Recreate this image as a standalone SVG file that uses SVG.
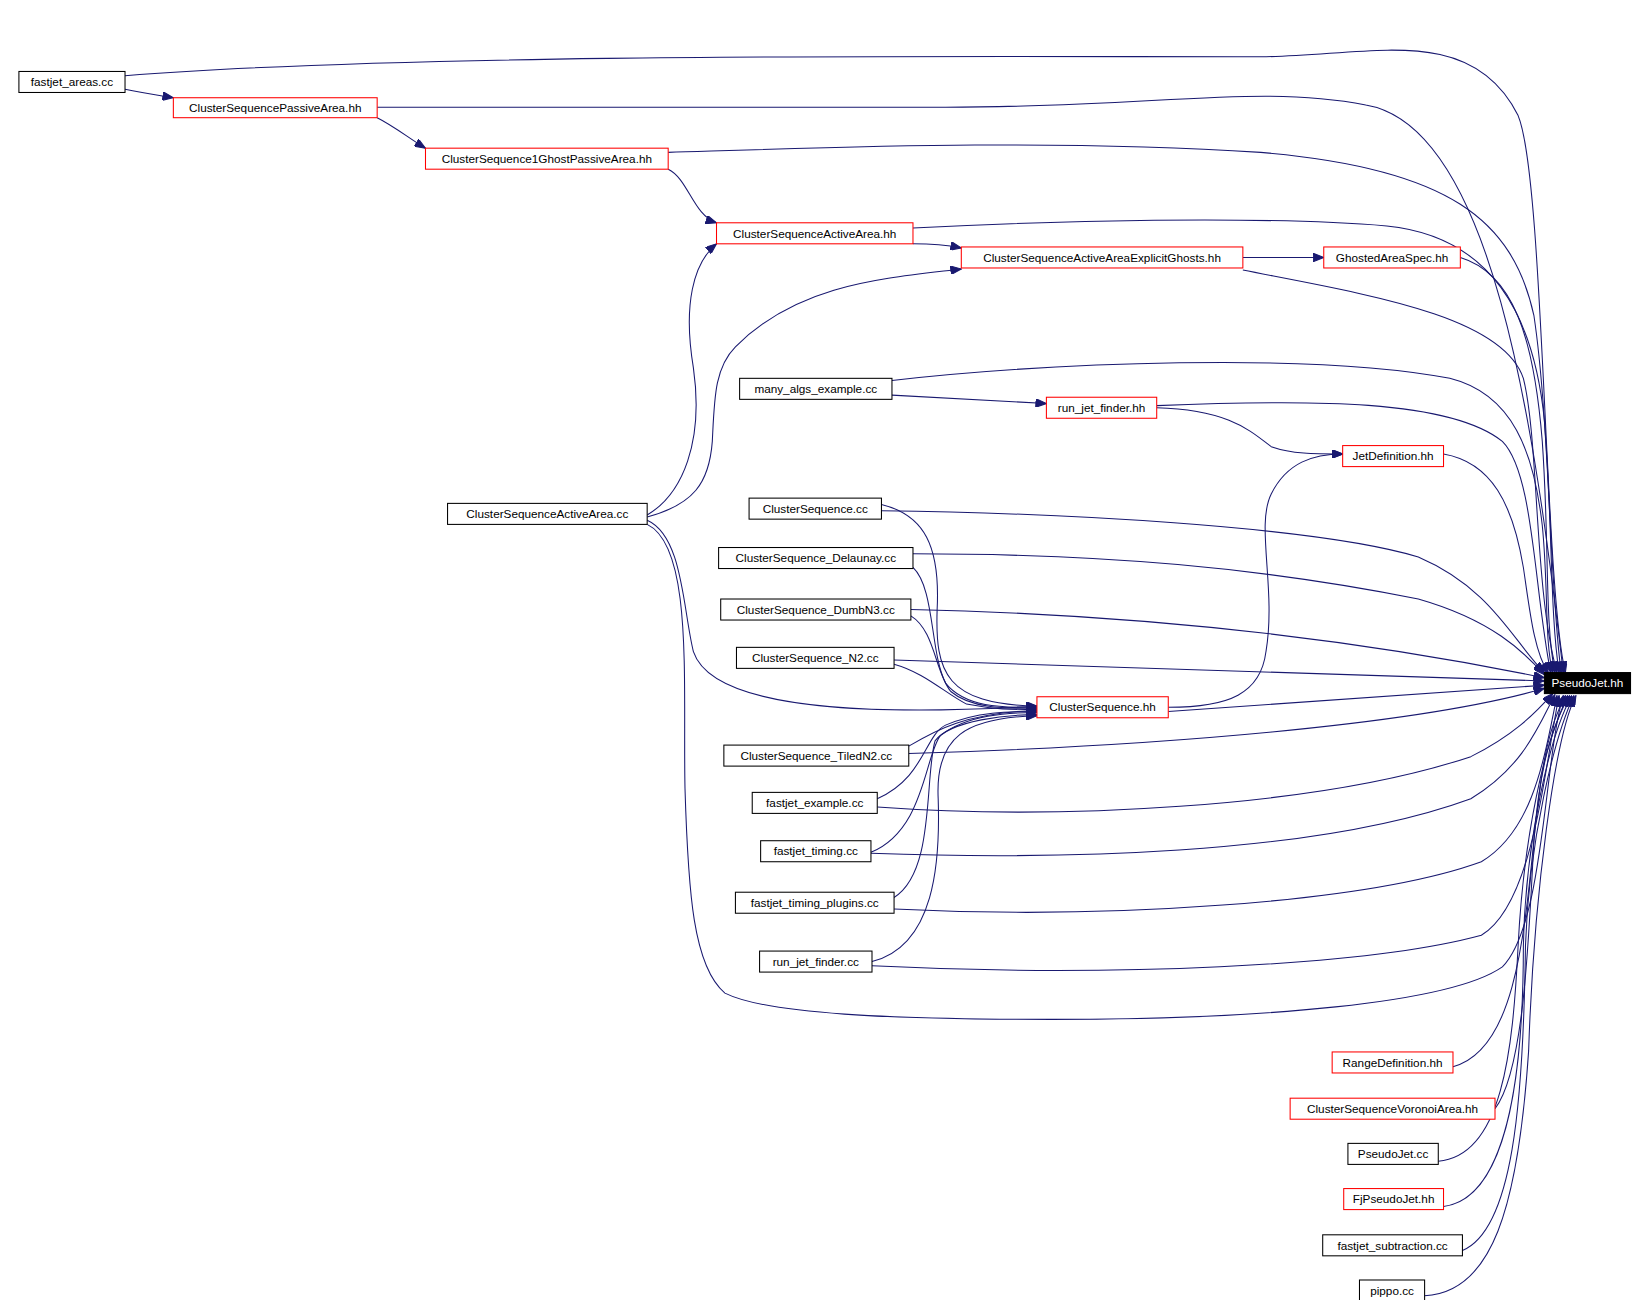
<svg xmlns="http://www.w3.org/2000/svg" width="1639" height="1300" viewBox="0 0 1639 1300">
<style>
.n rect{fill:#fff;stroke:#000;stroke-width:1}
.r rect{stroke:#f00}
.n text{font-family:"Liberation Sans",Arial,sans-serif;font-size:11.2px;text-anchor:middle;fill:#000}
.k rect{fill:#000}
.k text{fill:#fff}
#edges path{fill:none;stroke:#191970;stroke-width:1;marker-end:url(#a)}
</style>
<defs>
<marker id="a" viewBox="0 0 10 8" refX="10" refY="4" markerUnits="userSpaceOnUse" markerWidth="11" markerHeight="8" orient="auto">
<path d="M0,0L10,4L0,8z" fill="#191970" stroke="#191970"/>
</marker>
</defs>
<rect width="1639" height="1300" fill="#fff"/>
<g transform="scale(1.0506,1.0509)">
<g id="edges">
<path d="M119,85 C135,88 145,90 165,93"/>
<path d="M119,72 C400,50 900,54 1200,54 C1300,54 1400,20 1445,110 C1470,170 1470,560 1490,640"/>
<path d="M359,112 C375,120 390,132 405,141"/>
<path d="M359,102 L900,102 C1100,102 1200,80 1300,100 C1420,120 1460,400 1488,640"/>
<path d="M636,161 C655,170 660,205 682,212"/>
<path d="M636,145 C800,140 1000,132 1200,145 C1380,160 1440,210 1460,300 C1475,400 1475,560 1486,640"/>
<path d="M869,232 C885,232 900,233 915,236"/>
<path d="M869,217 C1000,210 1200,205 1320,215 C1420,225 1460,300 1470,400 C1478,500 1475,580 1484,640"/>
<path d="M1183,245 L1260,245"/>
<path d="M1183,257 C1300,280 1430,300 1450,360 C1465,420 1460,560 1482,640"/>
<path d="M1390,245 C1440,260 1460,320 1468,420 C1475,520 1470,590 1480,640"/>
<path d="M849,376 L996,384"/>
<path d="M849,362 C1000,345 1250,335 1380,360 C1440,375 1460,430 1468,500 C1474,560 1470,610 1478,640"/>
<path d="M1101,388 C1170,390 1190,410 1210,425 C1230,432 1250,432 1278,432"/>
<path d="M1101,386 C1250,380 1380,380 1430,420 C1460,450 1460,560 1476,640"/>
<path d="M1374,432 C1420,440 1440,480 1450,540 C1456,580 1460,620 1474,641"/>
<path d="M616,490 C650,470 670,420 660,350 C650,290 660,250 682,232"/>
<path d="M616,492 C660,480 675,460 678,420 C680,380 680,350 700,330 C760,270 840,265 915,256"/>
<path d="M616,495 C650,510 650,580 660,620 C680,680 850,680 987,672"/>
<path d="M616,499 C660,520 650,650 652,750 C655,850 660,920 690,945 C730,965 850,970 1000,970 C1200,970 1380,955 1430,920 C1470,880 1470,720 1488,662"/>
<path d="M839,480 C880,490 895,520 892,580 C890,640 900,670 987,672"/>
<path d="M839,486 C1000,488 1250,500 1350,530 C1420,560 1440,610 1470,640"/>
<path d="M869,540 C890,560 885,620 900,650 C920,675 960,673 987,673"/>
<path d="M869,527 C1050,527 1200,540 1350,570 C1420,590 1450,620 1470,642"/>
<path d="M867,586 C890,600 890,640 905,658 C925,675 960,674 987,674"/>
<path d="M867,580 C1100,585 1300,610 1470,645"/>
<path d="M851,632 C880,640 900,660 920,670 C950,676 970,675 987,675"/>
<path d="M851,628 L1470,648"/>
<path d="M865,710 C890,695 920,678 987,676"/>
<path d="M865,717 C1100,710 1350,690 1470,655"/>
<path d="M835,760 C880,740 880,700 900,690 C930,677 960,677 987,677"/>
<path d="M835,768 C1000,780 1250,770 1400,720 C1440,700 1460,680 1478,660"/>
<path d="M829,811 C880,790 880,720 895,700 C920,680 960,678 987,678"/>
<path d="M829,812 C1000,818 1250,815 1400,760 C1450,730 1465,690 1480,661"/>
<path d="M851,854 C890,830 880,740 890,705 C905,685 960,680 987,680"/>
<path d="M851,865 C1050,875 1300,860 1410,820 C1460,790 1470,720 1482,662"/>
<path d="M830,915 C890,900 895,820 893,760 C890,700 920,683 987,681"/>
<path d="M830,919 C1050,930 1300,920 1410,890 C1460,860 1470,730 1484,662"/>
<path d="M1112,673 C1170,673 1200,660 1205,620 C1215,560 1195,500 1210,470 C1225,440 1250,432 1278,432"/>
<path d="M1112,677 L1470,652"/>
<path d="M1383,1015 C1440,1000 1450,900 1460,800 C1468,720 1475,690 1490,662"/>
<path d="M1423,1055 C1450,1020 1455,900 1460,800 C1466,720 1480,690 1492,662"/>
<path d="M1369,1105 C1430,1100 1440,1000 1445,900 C1450,800 1470,700 1494,662"/>
<path d="M1374,1148 C1440,1140 1450,1000 1450,900 C1452,800 1475,700 1496,662"/>
<path d="M1392,1190 C1440,1170 1450,1050 1452,900 C1455,800 1480,700 1498,662"/>
<path d="M1356,1233 C1420,1230 1445,1150 1455,1000 C1460,850 1480,700 1500,662"/>
</g>
<g id="n1" class="n"><rect x="18" y="68" width="101" height="20"/><text x="68.5" y="82">fastjet_areas.cc</text></g>
<g id="n2" class="n r"><rect x="165" y="93" width="194" height="19"/><text x="262" y="107">ClusterSequencePassiveArea.hh</text></g>
<g id="n3" class="n r"><rect x="405" y="141" width="231" height="20"/><text x="520.5" y="155">ClusterSequence1GhostPassiveArea.hh</text></g>
<g id="n4" class="n r"><rect x="682" y="212" width="187" height="20"/><text x="775.5" y="226">ClusterSequenceActiveArea.hh</text></g>
<g id="n5" class="n r"><rect x="915" y="235" width="268" height="20"/><text x="1049" y="249">ClusterSequenceActiveAreaExplicitGhosts.hh</text></g>
<g id="n6" class="n r"><rect x="1260" y="235" width="130" height="20"/><text x="1325" y="249">GhostedAreaSpec.hh</text></g>
<g id="n7" class="n"><rect x="704" y="360" width="145" height="20"/><text x="776.5" y="374">many_algs_example.cc</text></g>
<g id="n8" class="n r"><rect x="996" y="378" width="105" height="20"/><text x="1048.5" y="392">run_jet_finder.hh</text></g>
<g id="n9" class="n r"><rect x="1278" y="424" width="96" height="20"/><text x="1326" y="438">JetDefinition.hh</text></g>
<g id="n10" class="n"><rect x="426" y="479" width="190" height="20"/><text x="521" y="493">ClusterSequenceActiveArea.cc</text></g>
<g id="n11" class="n"><rect x="713" y="474" width="126" height="20"/><text x="776" y="488">ClusterSequence.cc</text></g>
<g id="n12" class="n"><rect x="684" y="521" width="185" height="20"/><text x="776.5" y="535">ClusterSequence_Delaunay.cc</text></g>
<g id="n13" class="n"><rect x="686" y="570" width="181" height="20"/><text x="776.5" y="584">ClusterSequence_DumbN3.cc</text></g>
<g id="n14" class="n"><rect x="701" y="616" width="150" height="20"/><text x="776" y="630">ClusterSequence_N2.cc</text></g>
<g id="n15" class="n r"><rect x="987" y="663" width="125" height="20"/><text x="1049.5" y="677">ClusterSequence.hh</text></g>
<g id="n16" class="n k"><rect x="1470" y="640" width="82" height="20"/><text x="1511" y="654">PseudoJet.hh</text></g>
<g id="n17" class="n"><rect x="689" y="709" width="176" height="20"/><text x="777" y="723">ClusterSequence_TiledN2.cc</text></g>
<g id="n18" class="n"><rect x="716" y="754" width="119" height="20"/><text x="775.5" y="768">fastjet_example.cc</text></g>
<g id="n19" class="n"><rect x="724" y="800" width="105" height="20"/><text x="776.5" y="814">fastjet_timing.cc</text></g>
<g id="n20" class="n"><rect x="700" y="849" width="151" height="20"/><text x="775.5" y="863">fastjet_timing_plugins.cc</text></g>
<g id="n21" class="n"><rect x="723" y="905" width="107" height="20"/><text x="776.5" y="919">run_jet_finder.cc</text></g>
<g id="n22" class="n r"><rect x="1268" y="1001" width="115" height="20"/><text x="1325.5" y="1015">RangeDefinition.hh</text></g>
<g id="n23" class="n r"><rect x="1228" y="1045" width="195" height="20"/><text x="1325.5" y="1059">ClusterSequenceVoronoiArea.hh</text></g>
<g id="n24" class="n"><rect x="1283" y="1088" width="86" height="20"/><text x="1326" y="1102">PseudoJet.cc</text></g>
<g id="n25" class="n r"><rect x="1279" y="1131" width="95" height="20"/><text x="1326.5" y="1145">FjPseudoJet.hh</text></g>
<g id="n26" class="n"><rect x="1259" y="1175" width="133" height="20"/><text x="1325.5" y="1189">fastjet_subtraction.cc</text></g>
<g id="n27" class="n"><rect x="1294" y="1218" width="62" height="20"/><text x="1325" y="1232">pippo.cc</text></g>
</g>
</svg>
